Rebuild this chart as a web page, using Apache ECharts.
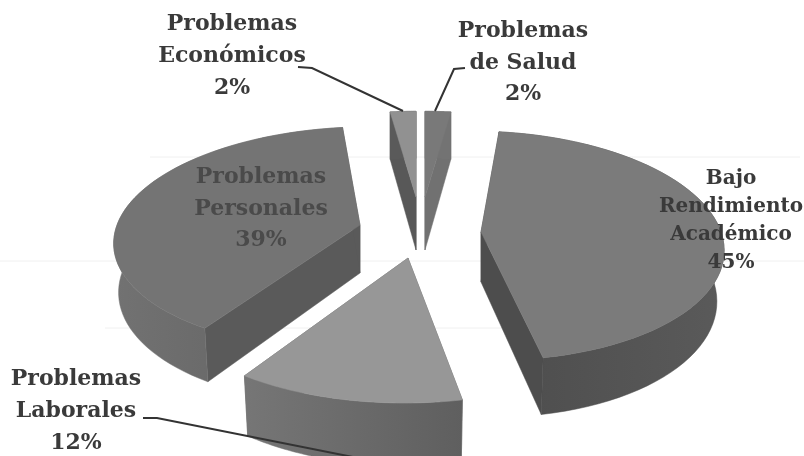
<!DOCTYPE html>
<html>
<head>
<meta charset="utf-8">
<style>
  html, body { margin: 0; padding: 0; background: #fff; }
  #chart { width: 804px; height: 456px; }
</style>
<script src="https://cdn.jsdelivr.net/npm/echarts@6/dist/echarts.min.js"></script>
</head>
<body>
<div id="chart"></div>
<script>
// clockwise from 12 o'clock, same order as the original pie
const categories = ['Problemas\nde Salud', 'Bajo\nRendimiento\nAcadémico', 'Problemas\nLaborales', 'Problemas\nPersonales', 'Problemas\nEconómicos']
const percents = [2, 45, 12, 39, 2]

// exploded 3d look: each slice has its own centre and perspective
const sliceLayout = [
  { cx: 425, cy: 197, a: 231, b: 96, k: 0.12, s: 0, d: 53, shrink: 1, top: '#797979', arc: '#737373', wall: '#717171' },
  { cx: 481, cy: 232, a: 240, b: 113, k: 0.12, s: -10, d: 50, shrink: 0.97, top: '#7b7b7b', arc: ['#4d4d4d', '#5a5a5a'], wall: '#4d4d4d' },
  { cx: 408, cy: 258, a: 249, b: 116, k: 0.2, s: 3, d: 50, shrink: 0.98, top: '#979797', arc: ['#767676', '#5f5f5f'], wall: '#666666' },
  { cx: 360, cy: 225, a: 243, b: 110, k: 0.12, s: 11, d: 48, shrink: 0.98, top: '#747474', arc: ['#727272', '#606060'], wall: '#5a5a5a' },
  { cx: 416, cy: 197, a: 231, b: 96, k: 0.12, s: 0, d: 53, shrink: 1, top: '#919191', arc: '#5a5a5a', wall: '#585858' }
]
const labelLayout = [
  { x: 523, y: 63, size: 22, lh: 31.5, color: '#3a3a3a' },
  { x: 731, y: 220.5, size: 20, lh: 28, color: '#3a3a3a' },
  { x: 76, y: 411.5, size: 22, lh: 32, color: '#3a3a3a' },
  { x: 261, y: 209, size: 22, lh: 31.5, color: '#4a4a4a' },
  { x: 232, y: 56, size: 22, lh: 32, color: '#3a3a3a' }
]
const leaderLines = [
  [[298, 67], [312, 68], [403, 111]],
  [[465, 68], [454, 69], [435, 111]],
  [[143, 418], [157, 418], [378, 462]]
]
const faintLines = [[150, 157, 800], [0, 261, 804], [105, 328, 560]]

const total = percents.reduce((sum, v) => sum + v, 0)
const startAngles = []
percents.reduce((acc, v, i) => {
  startAngles[i] = acc
  return acc + v / total * Math.PI * 2
}, 0)

// project a point of the pie disc, theta clockwise from top, low = bottom rim
function project (g, u, v, low) {
  const persp = 1 + g.k * v
  const x = (g.a * u + g.s * v) / persp * (low ? g.shrink : 1)
  const y = -g.b * v / persp + (low ? g.d / persp : 0)
  return [g.cx + x, g.cy + y]
}
function rim (g, theta, low) {
  return project(g, Math.sin(theta), Math.cos(theta), low)
}
function fillOf (c) {
  if (!Array.isArray(c)) return c
  return new echarts.graphic.LinearGradient(0, 0, 1, 0, [
    { offset: 0, color: c[0] },
    { offset: 1, color: c[1] }
  ])
}
function poly (points, fill, stroke) {
  return {
    type: 'polygon',
    shape: { points: points },
    style: { fill: fill, stroke: stroke, lineWidth: 0.5 }
  }
}

function renderSlice (params, api) {
  const i = params.dataIndex
  const g = sliceLayout[i]
  const lab = labelLayout[i]
  const value = api.value(0)
  const from = startAngles[i]
  const to = from + value / total * Math.PI * 2
  const topArc = []
  const lowArc = []
  const steps = 60
  for (let n = 0; n <= steps; n++) {
    const t = from + (to - from) * n / steps
    topArc.push(rim(g, t, false))
    lowArc.push(rim(g, t, true))
  }
  const apexTop = project(g, 0, 0, false)
  const apexLow = project(g, 0, 0, true)
  const wallStroke = Array.isArray(g.arc) ? g.arc[0] : g.arc
  return {
    type: 'group',
    children: [
      poly([apexTop, topArc[0], lowArc[0], apexLow], g.wall, g.wall),
      poly([apexTop, topArc[steps], lowArc[steps], apexLow], g.wall, g.wall),
      poly(topArc.concat(lowArc.slice().reverse()), fillOf(g.arc), wallStroke),
      poly([apexTop].concat(topArc), g.top, g.top),
      {
        type: 'text',
        x: lab.x,
        y: lab.y,
        z2: 10,
        style: {
          text: categories[i] + '\n' + value + '%',
          fontFamily: 'DejaVu Serif',
          fontWeight: 'bold',
          fontSize: lab.size,
          lineHeight: lab.lh,
          fill: lab.color,
          align: 'center',
          verticalAlign: 'middle'
        }
      }
    ]
  }
}

const chart = echarts.init(document.getElementById('chart'), null, { renderer: 'canvas' })
chart.setOption({
  animation: false,
  backgroundColor: '#ffffff',
  graphic: faintLines.map(l => ({
    type: 'line',
    silent: true,
    z: 0,
    shape: { x1: l[0], y1: l[1], x2: l[2], y2: l[1] },
    style: { stroke: '#f0f0f0', lineWidth: 1 }
  })).concat(leaderLines.map(pts => ({
    type: 'polyline',
    silent: true,
    z: 20,
    shape: { points: pts },
    style: { fill: null, stroke: '#333333', lineWidth: 2 }
  }))),
  series: [{
    type: 'custom',
    coordinateSystem: 'none',
    silent: true,
    renderItem: renderSlice,
    data: percents.map(v => [v])
  }]
})
</script>
</body>
</html>
